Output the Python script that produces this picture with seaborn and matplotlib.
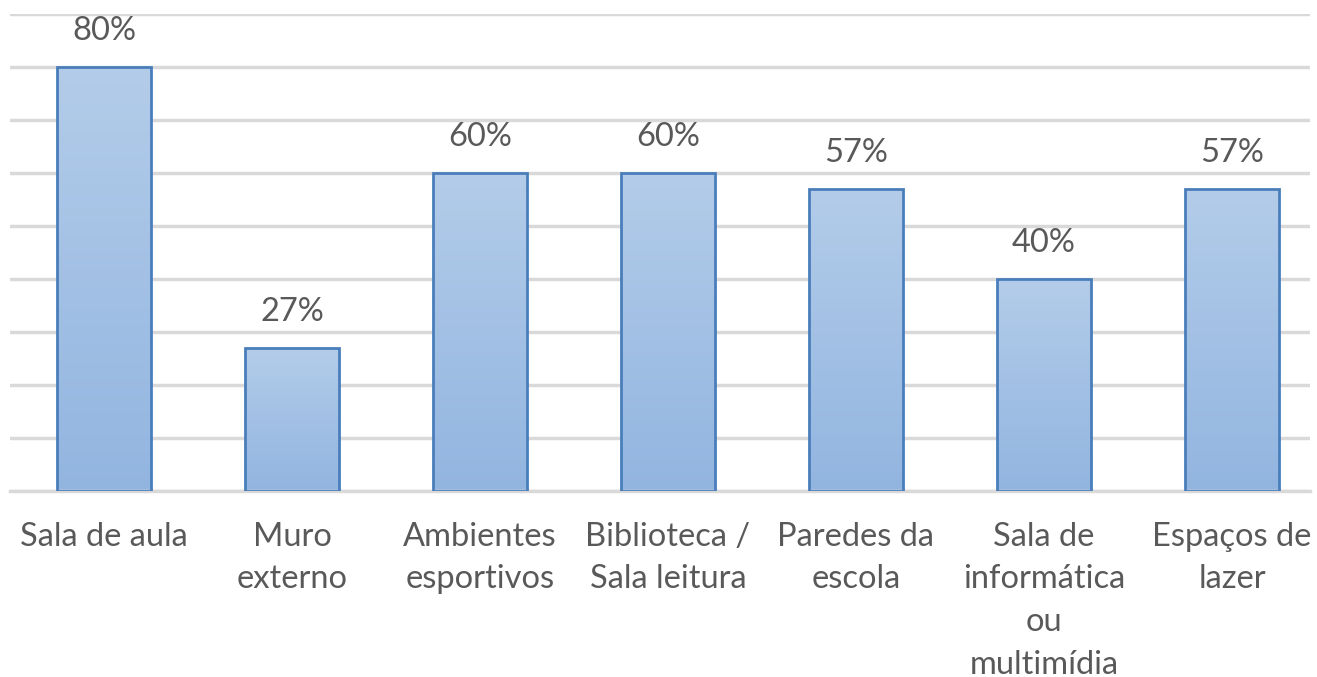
import numpy as np
import pandas as pd
import matplotlib
matplotlib.use('Agg')
import matplotlib.pyplot as plt
import seaborn as sns
from matplotlib.colors import LinearSegmentedColormap

# dados do gráfico
categorias = ["Sala de aula", "Muro\nexterno", "Ambientes\nesportivos",
              "Biblioteca /\nSala leitura", "Paredes da\nescola",
              "Sala de\ninformática\nou\nmultimídia", "Espaços de\nlazer"]
valores = [0.80, 0.27, 0.60, 0.60, 0.57, 0.40, 0.57]
rotulos = ["80%", "27%", "60%", "60%", "57%", "40%", "57%"]

df = pd.DataFrame({"local": categorias, "pct": valores})

sns.set_style("white")
plt.rcParams['font.family'] = ['Lato', 'DejaVu Sans']

fig = plt.figure(figsize=(13.17, 6.77), dpi=100)
ax = fig.add_axes([10/1317, 1 - 491/677, 1300/1317, (491-14)/677])

sns.barplot(data=df, x="local", y="pct", width=0.5, ax=ax,
            color="#a7c4e6", edgecolor="#4a7ebb", linewidth=2, zorder=3)

# preenchimento em degradê (claro em cima, mais escuro embaixo)
cmap = LinearSegmentedColormap.from_list("grad", ["#92b5e0", "#b3cce9"])
grad = np.linspace(0, 1, 256).reshape(-1, 1)
for p in ax.patches:
    x0, y0 = p.get_x(), p.get_y()
    w, h = p.get_width(), p.get_height()
    im = ax.imshow(grad, cmap=cmap, origin="lower", aspect="auto",
                   extent=[x0, x0 + w, y0, y0 + h], zorder=2)
    im.set_clip_path(p)
    p.set_facecolor("none")

for i, (v, r) in enumerate(zip(valores, rotulos)):
    ax.text(i, v + 0.068, r, ha="center", va="center", fontsize=23.5, color="#595959")

ax.set_xlim(-0.5, 6.415)
ax.set_ylim(0, 0.9)
ax.set_yticks(np.arange(0, 0.91, 0.1))
ax.set_yticklabels([])
ax.yaxis.grid(True, color="#d9d9d9", linewidth=2.5, zorder=0)
ax.set_axisbelow(True)
for s in ["top", "right", "left"]:
    ax.spines[s].set_visible(False)
ax.spines["bottom"].set_color("#d9d9d9")
ax.spines["bottom"].set_linewidth(2.5)
ax.tick_params(axis="x", length=0, pad=22, labelsize=23.5, labelcolor="#595959")
ax.tick_params(axis="y", length=0)
ax.set_xlabel("")
ax.set_ylabel("")
for t in ax.get_xticklabels():
    t.set_linespacing(1.53)

fig.savefig("out.png", dpi=100)
